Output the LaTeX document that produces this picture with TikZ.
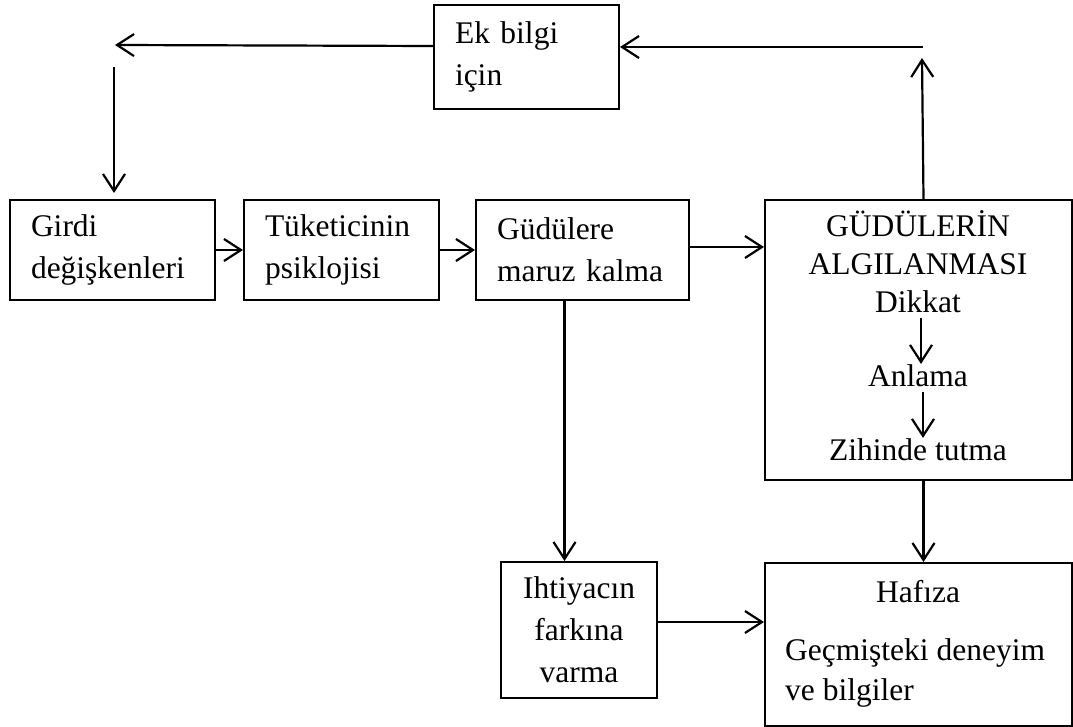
\documentclass[tikz,border=0pt]{standalone}
\usepackage{fontspec}
\setmainfont{Liberation Serif}
\usepackage{tikz}
\usetikzlibrary{positioning, arrows.meta}

\begin{document}
\begin{tikzpicture}[x=1pt, y=-1pt,
        font=\fontsize{31.5}{42}\selectfont,
        kutu/.style={draw, line width=2pt, inner xsep=21pt, inner ysep=0pt, align=left},
        metin/.style={inner sep=0pt},
        ok/.style={-{Straight Barb[length=17pt, width=22pt]}, line width=2.2pt}]
            \useasboundingbox (0,0) rectangle (1073,727);

            \node[kutu, text width=143pt, minimum height=104pt, anchor=north west] (ek) at (433,4) {Ek bilgi\\için};
            \node[kutu, text width=163pt, minimum height=100pt, anchor=north west] (girdi) at (9,199) {Girdi\\değişkenleri};
            \node[kutu, text width=153pt, minimum height=100pt, right=27pt of girdi] (tuketici) {Tüketicinin\\psiklojisi};
            \node[kutu, text width=171pt, minimum height=100pt, right=35pt of tuketici] (guduler) {Güdülere\\maruz kalma};
            \node[kutu, minimum width=307pt, minimum height=280pt, anchor=north west] (algi) at (764,199) {};
            \node[kutu, inner xsep=10pt, text width=136pt, minimum height=136pt, align=center, anchor=north west] (ihtiyac) at (500,561) {Ihtiyacın\\farkına\\varma};
            \node[kutu, minimum width=307pt, minimum height=163pt, anchor=north west] (hafiza) at (764,562) {};

            \node[metin, anchor=base] (baslik) at (918,237) {GÜDÜLERİN};
            \node[metin, anchor=base] (baslikalt) at (918,275) {ALGILANMASI};
            \node[metin, anchor=base] (dikkat) at (918,312) {Dikkat};
            \node[metin, anchor=base] (anlama) at (918,386) {Anlama};
            \node[metin, anchor=base] (zihin) at (918,460) {Zihinde tutma};

            \node[metin, anchor=base] (hafbaslik) at (918,602) {Hafıza};
            \node[metin, anchor=base west] (gecmis) at (785,660) {Geçmişteki deneyim};
            \node[metin, anchor=base west] (bilgi) at (785,700) {ve bilgiler};

            \coordinate (solust) at (115,45);
            \coordinate (solinis) at (114,67);
            \coordinate (sagust) at (923,47);
            \coordinate (donus) at (922,58);

            \draw[ok] ([yshift=11pt]ek.west) -- (solust);
            \draw[ok] (solinis) -- ([yshift=6pt]solinis |- girdi.north);
            \draw[ok] (sagust) -- (sagust -| ek.east);
            \draw[ok] ([xshift=5pt]algi.north) -- (donus);

            \draw[ok] (girdi) -- (tuketici);
            \draw[ok] (tuketici) -- (guduler);
            \draw[ok] ([yshift=3pt]guduler.east) -- ([yshift=3pt]guduler.east -| algi.west);

            \draw[ok, shorten <=5pt] ([xshift=3pt]dikkat.south) -- ([xshift=3pt]dikkat.south |- anlama.north);
            \draw[ok, shorten <=5pt] ([xshift=5pt]anlama.south) -- ([xshift=5pt]anlama.south |- zihin.north);

            \draw[ok] ([xshift=-18pt]guduler.south) -- ([xshift=-18pt]guduler.south |- ihtiyac.north);
            \draw[ok] ([xshift=5pt]algi.south) -- ([xshift=5pt]algi.south |- hafiza.north);
            \draw[ok] ([yshift=8pt]ihtiyac.east) -- ([yshift=8pt]ihtiyac.east -| hafiza.west);
        \end{tikzpicture}
\end{document}
